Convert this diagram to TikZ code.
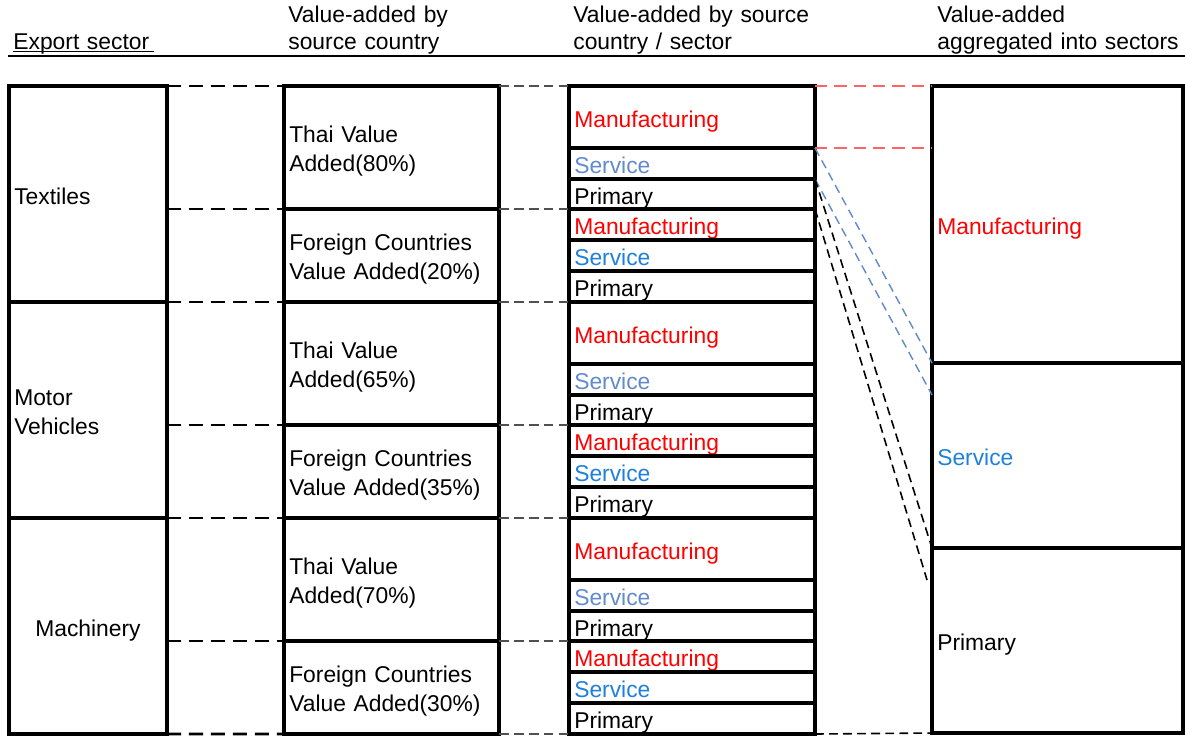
\documentclass[tikz,border=0pt]{standalone}
\usepackage{fontspec}
\setmainfont{Liberation Sans}
\usepackage{xcolor}
\definecolor{MfgRed}{RGB}{255,0,0}
\definecolor{SvcBlue}{RGB}{30,128,218}
\definecolor{SvcSteel}{RGB}{98,138,204}
\definecolor{LinkRed}{RGB}{255,100,100}
\definecolor{LinkBlue}{RGB}{96,138,200}
\definecolor{LinkGray}{RGB}{80,80,80}
\usepackage{tikz}
\usetikzlibrary{math}
\newcommand*{\bodyfont}{\fontsize{13}{16.5}\selectfont}
\newcommand*{\headfont}{\fontsize{13}{15.9}\selectfont}

\tikzset{
  cell/.style 2 args={draw, line width=1.9pt, outer sep=0pt, anchor=north west,
    inner xsep=3pt, inner ysep=0pt, text width={#1*0.02cm-6pt},
    minimum height={#2*0.02cm}, align=left, font=\bodyfont,
    text height=12pt, text depth=0.6pt},
  twoline/.style={text height=14.8pt, text depth=20pt},
  colhead/.style={anchor=base west, inner sep=0pt, text width=6cm, align=left, font=\headfont},
  sectorlink/.style={line width=1.5pt, dash pattern=on 8pt off 4.5pt},
  countrylink/.style={draw=LinkGray, line width=0.9pt, dash pattern=on 5.5pt off 3pt},
  redlink/.style={draw=LinkRed, line width=1.1pt, dash pattern=on 7pt off 4pt},
  bluelink/.style={draw=LinkBlue, line width=0.8pt, dash pattern=on 5pt off 3pt},
  blacklink/.style={line width=0.9pt, dash pattern=on 5pt off 3pt},
}

\begin{document}
\begin{tikzpicture}[x=0.02cm,y=-0.02cm]
    \tikzmath{
      \xa=9;   % export sector
      \xb=284; % by source country
      \xc=569; % by source country / sector
      \xd=932; % aggregated
    }
    \useasboundingbox (0,0) rectangle (1185,735);
    % column headings
    \node[colhead, text width=3cm] (h-exp) at (13,49) {Export sector};
    \draw[line width=0.6pt] ([yshift=-1.6pt]h-exp.base west) -- ++(141,0);
    \node[colhead] (h-src) at (288,22) {Value-added by\\source country};
    \node[colhead] (h-sec) at (573,22) {Value-added by source\\country / sector};
    \node[colhead] (h-agg) at (937,22) {Value-added\\aggregated into sectors};
    \draw[line width=1.2pt] (8,56) -- (1185,56);

    \node[cell={158}{216}] (sec-1) at (\xa,86) {Textiles};
    \node[cell={158}{216}, twoline] (sec-2) at (\xa,302) {Motor\\Vehicles};
    \node[cell={158}{216}, align=center] (sec-3) at (\xa,518) {Machinery};

    \foreach \i/\y/\pc/\pf in {1/86/80/20, 2/302/65/35, 3/518/70/30}{
      \node[cell={215}{123}, twoline] (thai-\i) at (\xb,\y) {Thai Value\\Added(\pc\%)};
      \node[cell={215}{93}, twoline] (for-\i) at (\xb,\y+123) {Foreign Countries\\Value Added(\pf\%)};
      \node[cell={246}{62}, text=MfgRed] (m-thai-\i) at (\xc,\y) {Manufacturing};
      \node[cell={246}{31}, text=SvcSteel] (s-thai-\i) at (\xc,\y+62) {Service};
      \node[cell={246}{30}] (p-thai-\i) at (\xc,\y+93) {Primary};
      \node[cell={246}{31}, text=MfgRed] (m-for-\i) at (\xc,\y+123) {Manufacturing};
      \node[cell={246}{31}, text=SvcBlue] (s-for-\i) at (\xc,\y+154) {Service};
      \node[cell={246}{31}] (p-for-\i) at (\xc,\y+185) {Primary};
      \draw[sectorlink] (sec-\i.east |- thai-\i.north) -- (thai-\i.north west);
      \draw[sectorlink] (sec-\i.east |- for-\i.north) -- (for-\i.north west);
      \draw[countrylink] (thai-\i.north east) -- (m-thai-\i.north west);
      \draw[countrylink] (for-\i.north east) -- (m-for-\i.north west);
    }
    \draw[sectorlink] (sec-3.south east) -- (for-3.south west);
    \draw[countrylink] (for-3.south east) -- (p-for-3.south west);

    \node[cell={251}{277}, text=MfgRed] (agg-m) at (\xd,86) {Manufacturing};
    \node[cell={251}{185}, text=SvcBlue] (agg-s) at (\xd,363) {Service};
    \node[cell={251}{185}] (agg-p) at (\xd,548) {Primary};

    % shares going into the aggregated sectors
    \coordinate (s-end) at (\xd,395);
    \coordinate (p-end) at (927,580);
    \draw[redlink] (m-thai-1.north east) -- (agg-m.north west);
    \draw[redlink] (m-thai-1.south east) -- (m-thai-1.south east -| agg-m.west);
    \draw[bluelink] (s-thai-1.north east) -- (agg-s.north west);
    \draw[bluelink] (s-thai-1.south east) -- (s-end);
    \draw[blacklink] (p-thai-1.north east) -- (agg-p.north west);
    \draw[blacklink] (p-thai-1.south east) -- (p-end);
    \draw[blacklink] (p-for-3.south east) -- (agg-p.south west);
\end{tikzpicture}
\end{document}
